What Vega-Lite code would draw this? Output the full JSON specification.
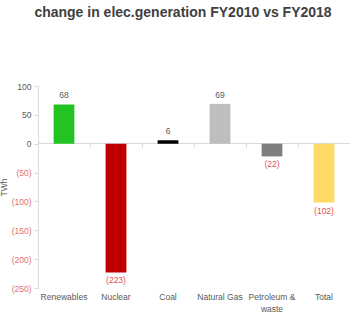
{
  "$schema": "https://vega.github.io/schema/vega-lite/v6.json",
  "autosize": "none",
  "width": 312,
  "height": 202,
  "padding": {"left": 38, "top": 86, "right": 0, "bottom": 29},
  "background": "white",
  "title": {"text": "change in elec.generation FY2010 vs FY2018", "fontSize": 14, "fontWeight": "bold", "color": "#404040", "font": "Liberation Sans", "offset": 62, "dx": -11, "anchor": "middle"},
  "config": {"view": {"stroke": null}, "font": "Liberation Sans"},
  "data": {"values": [
    {"source": "Renewables", "value": 68, "label": "68"},
    {"source": "Nuclear", "value": -223, "label": "(223)"},
    {"source": "Coal", "value": 6, "label": "6"},
    {"source": "Natural Gas", "value": 69, "label": "69"},
    {"source": "Petroleum & waste", "value": -22, "label": "(22)"},
    {"source": "Total", "value": -102, "label": "(102)"}
  ]},
  "resolve": {"axis": {"x": "independent"}},
  "encoding": {
    "y": {"field": "value", "type": "quantitative",
      "scale": {"domain": [-250, 100], "nice": false, "zero": true},
      "axis": {"values": [-250, -200, -150, -100, -50, 0, 50, 100], "grid": false, "domainColor": "#d9d9d9", "tickColor": "#d9d9d9", "tickSize": 4,
        "labelFontSize": 8.5, "labelPadding": 3, "labelOverlap": false, "labelFlush": false, "labelBound": false,
        "labelExpr": "datum.value < 0 ? '(' + (-datum.value) + ')' : datum.value",
        "labelColor": {"condition": {"test": "datum.value < 0", "value": "#e07070"}, "value": "#595959"},
        "title": "TWh", "titleFontSize": 8.5, "titleFontWeight": "normal", "titleColor": "#595959", "titleX": -30}}
  },
  "layer": [
    {
      "mark": {"type": "bar", "width": {"band": 0.4}},
      "encoding": {
        "x": {"field": "source", "type": "nominal", "sort": null,
          "scale": {"paddingInner": 0, "paddingOuter": 0},
          "axis": {"orient": "bottom", "title": null, "domain": false, "ticks": false, "labelAngle": 0, "labelPadding": 4, "labelFontSize": 8.5, "labelColor": "#595959", "labelLineHeight": 12,
            "labelExpr": "datum.value == 'Petroleum & waste' ? ['Petroleum &', 'waste'] : datum.value"}},
        "color": {"field": "source", "type": "nominal", "legend": null,
          "scale": {"domain": ["Renewables", "Nuclear", "Coal", "Natural Gas", "Petroleum & waste", "Total"],
            "range": ["#22c322", "#c00000", "#000000", "#bfbdbe", "#7f7f7f", "#ffd966"]}}
      }
    },
    {
      "transform": [{"filter": "datum.value >= 0"}],
      "mark": {"type": "text", "baseline": "bottom", "dy": -4, "fontSize": 8.5, "color": "#595959"},
      "encoding": {
        "x": {"field": "source", "type": "nominal", "sort": null,
          "axis": {"orient": "top", "offset": -57, "title": null, "labels": false, "domain": true, "domainColor": "#d9d9d9", "ticks": true, "tickColor": "#d9d9d9", "tickSize": -4, "bandPosition": 0}},
        "text": {"field": "label"}
      }
    },
    {
      "transform": [{"filter": "datum.value < 0"}],
      "mark": {"type": "text", "baseline": "top", "dy": 4, "fontSize": 8.5, "color": "#e05050"},
      "encoding": {
        "x": {"field": "source", "type": "nominal", "sort": null, "axis": null},
        "text": {"field": "label"}
      }
    }
  ]
}
